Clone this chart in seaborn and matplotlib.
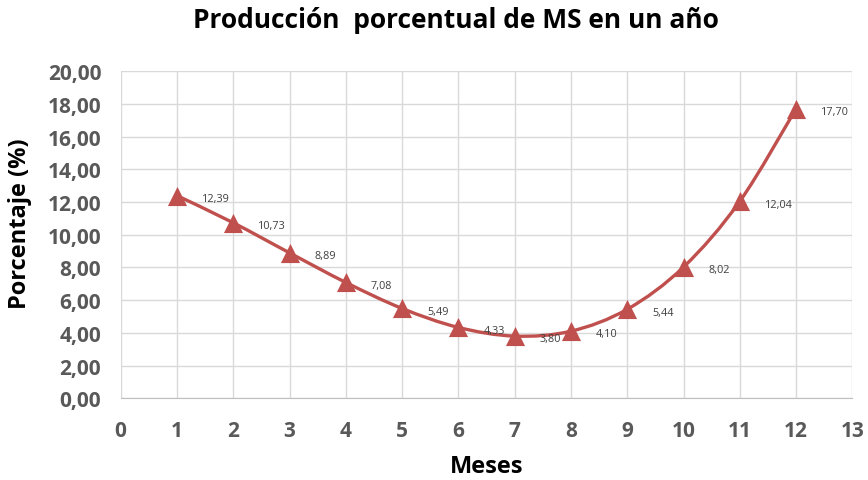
"""Producción porcentual de MS en un año."""

import matplotlib.pyplot as plt
import numpy as np
import pandas as pd
import seaborn as sns
from matplotlib.patches import PathPatch
from matplotlib.path import Path

meses = [1, 2, 3, 4, 5, 6, 7, 8, 9, 10, 11, 12]
porcentaje = [12.39, 10.73, 8.89, 7.08, 5.49, 4.33, 3.80, 4.10, 5.44, 8.02, 12.04, 17.70]
etiquetas = ["12,39", "10,73", "8,89", "7,08", "5,49", "4,33", "3,80", "4,10",
             "5,44", "8,02", "12,04", "17,70"]

ROJO = "#C0504D"


def smooth_path(x, y, t=1 / 6):
    """Bezier path through the points, like Excel's smoothed line."""
    pts = np.column_stack([x, y]).astype(float)
    n = len(pts)
    verts = [pts[0]]
    codes = [Path.MOVETO]
    for i in range(n - 1):
        p0 = pts[max(i - 1, 0)]
        p1 = pts[i]
        p2 = pts[i + 1]
        p3 = pts[min(i + 2, n - 1)]
        c1 = p1 + (p2 - p0) * t
        c2 = p2 - (p3 - p1) * t
        verts += [c1, c2, p2]
        codes += [Path.CURVE4] * 3
    return Path(verts, codes)


def main() -> None:
    df = pd.DataFrame({"Meses": meses, "Porcentaje": porcentaje})

    sns.set_style("white")
    plt.rcParams["font.family"] = ["Open Sans", "DejaVu Sans"]

    fig = plt.figure(figsize=(8.68, 4.81), dpi=100)
    ax = fig.add_axes([0.139, 0.170, 0.843, 0.680])

    ax.add_patch(PathPatch(smooth_path(meses, porcentaje), facecolor="none",
                           edgecolor=ROJO, lw=2.4, zorder=3))
    sns.scatterplot(data=df, x="Meses", y="Porcentaje", marker="^", s=190,
                    color=ROJO, edgecolor=ROJO, linewidth=0, zorder=4, ax=ax)

    for xm, ym, lab in zip(meses, porcentaje, etiquetas):
        ax.annotate(lab, (xm, ym), xytext=(18, -2), textcoords="offset points",
                    fontsize=7.8, color="#404040", va="center", ha="left",
                    zorder=5)

    ax.set_xlim(0, 13)
    ax.set_ylim(0, 20)
    ax.set_xticks(range(0, 14))
    ax.set_yticks(np.arange(0, 21, 2))
    ax.set_yticklabels([f"{v:.2f}".replace(".", ",") for v in np.arange(0, 21, 2)])
    ax.grid(True, color="#D9D9D9", lw=1)
    for s in ["top", "right", "left"]:
        ax.spines[s].set_visible(False)
    ax.spines["bottom"].set_color("#BFBFBF")
    ax.tick_params(axis="both", length=0, labelsize=15, labelcolor="#595959")
    for lbl in ax.get_xticklabels() + ax.get_yticklabels():
        lbl.set_fontweight("bold")
    ax.tick_params(axis="x", pad=16)
    ax.tick_params(axis="y", pad=14)

    ax.set_xlabel("Meses", fontsize=17, fontweight="bold", color="black")
    ax.set_ylabel("Porcentaje (%)", fontsize=17, fontweight="bold", color="black")
    ax.xaxis.label.set_va("center")
    ax.yaxis.label.set_va("center")
    ax.xaxis.set_label_coords(0.5, -0.208)
    ax.yaxis.set_label_coords(-0.138, 0.537)
    fig.text(0.525, 1 - 20 / 481, "Producción  porcentual de MS en un año",
             fontsize=19, fontweight="bold", color="black", ha="center", va="center")

    fig.savefig("out.png", dpi=100)
    plt.close(fig)


if __name__ == "__main__":
    main()
